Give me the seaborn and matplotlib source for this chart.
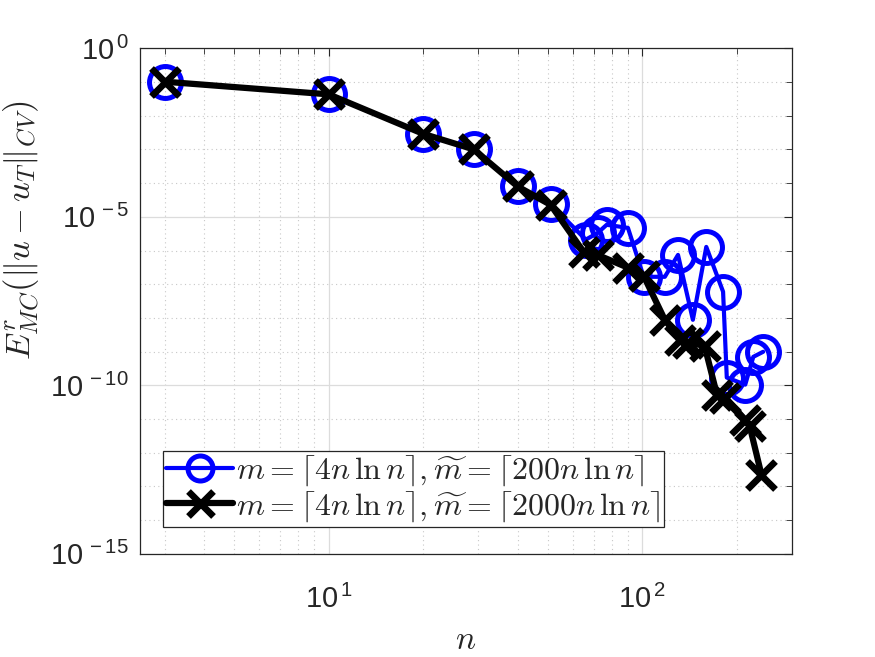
import numpy as np
import pandas as pd
import matplotlib
matplotlib.use("Agg")
import matplotlib.pyplot as plt
import matplotlib.ticker as mticker
import seaborn as sns

# ---- data ----
n_blue = [3, 10, 20, 29, 40, 51, 66, 72, 77, 90, 101, 118, 130, 145, 160, 181, 186, 213, 226, 243]
err_blue = [1.02e-1, 4.3e-2, 2.9e-3, 1.0e-3, 8.0e-5, 2.4e-5, 2.1e-6, 3.3e-6, 5.8e-6, 4.7e-6,
            1.66e-7, 1.66e-7, 7.4e-7, 8.8e-9, 1.28e-6, 6.0e-8, 1.7e-10, 1.05e-10, 7.0e-10, 9.9e-10]

n_black = [3, 10, 20, 29, 40, 51, 65, 72, 90, 101, 118, 132, 140, 158, 173, 184, 213, 220, 240]
err_black = [1.02e-1, 4.3e-2, 2.9e-3, 1.0e-3, 8.0e-5, 2.26e-5, 9.1e-7, 7.4e-7, 3.1e-7, 1.77e-7,
             8.8e-9, 2.25e-9, 1.83e-9, 1.49e-9, 5.3e-11, 4.3e-11, 9.5e-12, 6.3e-12, 2.2e-13]

label_blue = r'$m=\lceil 4n\,\ln n\rceil,\widetilde{m}=\lceil 200n\,\ln n\rceil$'
label_black = r'$m=\lceil 4n\,\ln n\rceil,\widetilde{m}=\lceil 2000n\,\ln n\rceil$'

y_major = [-15, -10, -5, 0]
x_major = [1, 2]

df_blue = pd.DataFrame({"n": n_blue, "err": err_blue})
df_black = pd.DataFrame({"n": n_black, "err": err_black})

sns.set_theme(style="white")
plt.rcParams['font.family'] = ['Liberation Sans', 'DejaVu Sans']
plt.rcParams['mathtext.fontset'] = 'cm'

fig = plt.figure(figsize=(8.75, 6.57), dpi=100)
ax = fig.add_axes([0.16, 0.157, 0.745, 0.7695])
ax.set_xscale('log')
ax.set_yscale('log')

sns.lineplot(data=df_blue, x="n", y="err", ax=ax, color=(0, 0, 1), linewidth=3,
             marker='o', markersize=23, markerfacecolor='none', markeredgecolor=(0, 0, 1),
             markeredgewidth=3.6, label=label_blue, estimator=None, sort=False)
sns.lineplot(data=df_black, x="n", y="err", ax=ax, color='black', linewidth=4.5,
             marker='x', markersize=20, markeredgecolor='black', markeredgewidth=4.8,
             label=label_black, estimator=None, sort=False)

ax.set_xlim(2.5, 300)
ax.set_ylim(1e-15, 1)

# ticks
ax.yaxis.set_major_locator(mticker.FixedLocator([10.0 ** e for e in y_major]))
ax.yaxis.set_minor_locator(mticker.FixedLocator([10.0 ** e for e in range(-15, 1) if e not in y_major]))
ax.xaxis.set_major_locator(mticker.FixedLocator([10.0 ** e for e in x_major]))
ax.xaxis.set_minor_locator(mticker.LogLocator(base=10, subs=np.arange(2, 10), numticks=20))
fmt = mticker.FuncFormatter(lambda v, p: r'$\mathregular{10^{\,%d}}$' % int(round(np.log10(v))))
ax.yaxis.set_major_formatter(fmt)
ax.xaxis.set_major_formatter(fmt)
ax.xaxis.set_minor_formatter(mticker.NullFormatter())
ax.yaxis.set_minor_formatter(mticker.NullFormatter())

ax.tick_params(which='both', direction='in', top=True, right=True, colors='#262626',
               labelsize=21)
ax.tick_params(which='major', length=6, width=0.8)
ax.tick_params(which='minor', length=4, width=0.6)
ax.tick_params(axis='x', which='major', pad=22)
ax.tick_params(axis='y', which='major', pad=8)

ax.grid(True, which='major', color='#dcdcdc', linewidth=0.9, linestyle='-')
ax.grid(True, which='minor', color='#c8c8c8', linewidth=0.8, linestyle=(0, (1, 3)))
ax.set_axisbelow(True)
for s in ax.spines.values():
    s.set_color('#262626')
    s.set_linewidth(0.9)

ax.set_xlabel(r'$n$', fontsize=24, color='#262626', labelpad=8)
ax.set_ylabel(r'$E^r_{MC}(\|u-u_T\|_{CV})$', fontsize=25, color='#262626')
ax.yaxis.set_label_coords(-0.15, 0.64)

leg = ax.legend(loc='lower left', bbox_to_anchor=(0.035, 0.053), borderaxespad=0,
                fontsize=23, frameon=True, fancybox=False, framealpha=1,
                edgecolor='#262626', handlelength=2.1, handletextpad=0.1,
                labelspacing=0.02, borderpad=0.1)
leg.get_frame().set_linewidth(0.9)
for h in leg.legend_handles:
    h.set_markersize(18)

fig.savefig('out.png', dpi=100, facecolor='white')
